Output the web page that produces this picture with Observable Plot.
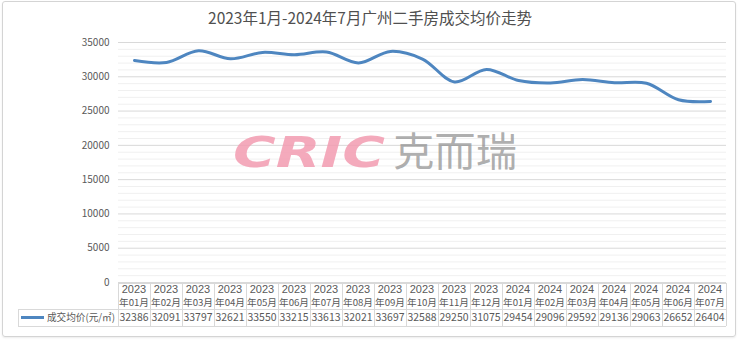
<!DOCTYPE html>
<html><head><meta charset="utf-8">
<script src="https://cdn.jsdelivr.net/npm/d3@7"></script>
<script src="https://cdn.jsdelivr.net/npm/@observablehq/plot@0.6"></script>
<style>
body{margin:0;background:#fff;font-family:"Noto Sans CJK SC","Noto Sans",sans-serif;}
#wrap{position:relative;width:740px;height:345px;overflow:hidden;background:#fff;}
#frame{position:absolute;left:2px;top:1px;width:734px;height:336px;border:1px solid #d4d4d4;box-sizing:border-box;border-radius:3px;box-shadow:0 1px 2px rgba(0,0,0,0.08);}
#title{position:absolute;left:0;top:6px;width:740px;text-align:center;font-size:15.5px;line-height:22px;color:#505050;font-weight:400;}
#chart{position:absolute;left:0;top:34px;}
#wm{position:absolute;left:0;top:0;pointer-events:none;}
</style></head>
<body>
<div id="wrap">
  <div id="frame"></div>
  <div id="title">2023年1月-2024年7月广州二手房成交均价走势</div>
  <div id="chart"></div>
  <svg id="wm" width="740" height="345">
    <text x="233" y="167" font-family="DejaVu Sans" font-weight="bold" font-style="italic" font-size="42" fill="#f29bb0" fill-opacity="0.85" textLength="152" lengthAdjust="spacingAndGlyphs">CRIC</text>
    <text x="393" y="166" font-family="Noto Sans CJK SC" font-size="40" fill="#8c8c8c" fill-opacity="0.7" textLength="124" lengthAdjust="spacingAndGlyphs">克而瑞</text>
  </svg>
</div>
<script>
const years = ["2023","2023","2023","2023","2023","2023","2023","2023","2023","2023","2023","2023","2024","2024","2024","2024","2024","2024","2024"];
const monthLabels = ["年01月","年02月","年03月","年04月","年05月","年06月","年07月","年08月","年09月","年10月","年11月","年12月","年01月","年02月","年03月","年04月","年05月","年06月","年07月"];
const prices = [32386,32091,33797,32621,33550,33215,33613,32021,33697,32588,29250,31075,29454,29096,29592,29136,29063,26652,26404];
const yTicks = [0,5000,10000,15000,20000,25000,30000,35000];
const seriesName = "成交均价(元/㎡)";

const months = years.map((y,i) => y + monthLabels[i]);
const data = months.map((m,i) => ({month: m, price: prices[i], year: years[i], mlabel: monthLabels[i]}));
const minorTicks = d3.range(0, 35001, 1000).filter(v => v % 5000 !== 0);

const lineColor = "#4e86c0";
const gridColor = "#d9d9d9";
const textColor = "#595959";

function tableMark(index, scales, values, dims) {
  const x = scales.x;
  const g = d3.create("svg:g");
  const left = dims.marginLeft, right = dims.width - dims.marginRight;
  const n = months.length;
  const step = (right - left) / n;
  const y0 = dims.height - dims.marginBottom;
  const top = y0 + 1, mid = y0 + 27, bot = y0 + 44;
  const lines = g.append("g").attr("stroke", gridColor).attr("stroke-width", 1).attr("shape-rendering", "crispEdges");
  lines.append("line").attr("x1", left).attr("x2", right).attr("y1", top).attr("y2", top);
  lines.append("line").attr("x1", 18).attr("x2", right).attr("y1", mid).attr("y2", mid);
  lines.append("line").attr("x1", 18).attr("x2", right).attr("y1", bot).attr("y2", bot);
  lines.append("line").attr("x1", 18).attr("x2", 18).attr("y1", mid).attr("y2", bot);
  for (let i = 0; i <= n; i++) {
    const xx = Math.round(left + i * step) + 0.5;
    lines.append("line").attr("x1", xx).attr("x2", xx).attr("y1", top).attr("y2", bot);
  }
  const t = g.append("g").attr("fill", textColor).attr("text-anchor", "middle")
    .attr("font-family", "'Noto Sans CJK SC', sans-serif");
  data.forEach(d => {
    const cx = x(d.month);
    t.append("text").attr("x", cx).attr("y", top + 6.5).attr("dy", "0.35em").attr("font-size", 11)
      .attr("font-family", "'Liberation Sans', sans-serif").text(d.year);
    t.append("text").attr("x", cx).attr("y", top + 19.8).attr("dy", "0.35em").attr("font-size", 9)
      .attr("textLength", 30).attr("lengthAdjust", "spacingAndGlyphs").text(d.mlabel);
    t.append("text").attr("x", cx).attr("y", (mid + bot) / 2).attr("dy", "0.35em").attr("font-size", 11)
      .attr("textLength", 29).attr("lengthAdjust", "spacingAndGlyphs").text(d.price);
  });
  const ly = (mid + bot) / 2;
  g.append("line").attr("x1", 21).attr("x2", 44).attr("y1", ly).attr("y2", ly)
    .attr("stroke", lineColor).attr("stroke-width", 3);
  g.append("text").attr("x", 47).attr("y", ly).attr("dy", "0.35em").attr("font-size", 10)
    .attr("text-anchor", "start")
    .attr("fill", textColor).attr("font-family", "'Noto Sans CJK SC', sans-serif")
    .attr("textLength", 68).attr("lengthAdjust", "spacingAndGlyphs").text(seriesName);
  return g.node();
}

const chart = Plot.plot({
  width: 740,
  height: 311,
  marginLeft: 118,
  marginRight: 14,
  marginTop: 8,
  marginBottom: 63,
  style: {fontFamily: "'Noto Sans CJK SC', sans-serif", fontSize: "10px", color: textColor, background: "transparent", overflow: "visible"},
  x: {type: "point", domain: months, padding: 0.5, axis: null},
  y: {domain: [0, 35000], axis: null},
  marks: [
    Plot.ruleY(minorTicks, {stroke: "#f0f0f0"}),
    Plot.ruleY(yTicks, {stroke: gridColor}),
    Plot.axisY({ticks: yTicks, tickSize: 0, tickPadding: 9, label: null, fill: textColor, fontSize: 10, tickFormat: d => String(d)}),
    Plot.line(data, {x: "month", y: "price", curve: "catmull-rom", stroke: lineColor, strokeWidth: 3}),
    tableMark
  ]
});
document.getElementById("chart").appendChild(chart);
</script>
</body></html>
